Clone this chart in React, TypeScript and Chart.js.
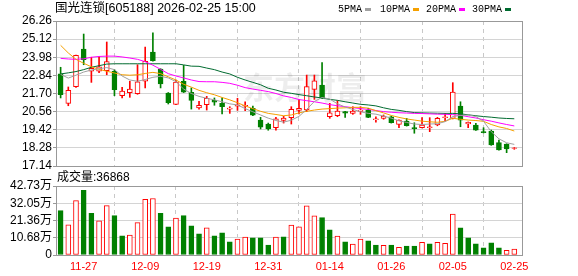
import React, { useEffect, useRef } from 'react';
import { Chart, registerables } from 'chart.js';

Chart.register(...registerables);

const dates = ['11-24','11-25','11-26','11-27','11-28','12-01','12-02','12-03','12-04','12-05','12-08','12-09','12-10','12-11','12-12','12-15','12-16','12-17','12-18','12-19','12-22','12-23','12-24','12-25','12-26','12-29','12-30','12-31','01-05','01-06','01-07','01-08','01-09','01-12','01-13','01-14','01-15','01-16','01-19','01-20','01-21','01-22','01-23','01-26','01-27','01-28','01-29','01-30','02-02','02-03','02-04','02-05','02-06','02-09','02-10','02-11','02-12','02-13','02-24','02-25'];

const openP = [22.93,21.08,22.13,24.50,23.10,23.10,23.13,23.10,21.56,21.75,
  21.69,22.47,24.31,23.24,21.73,21.02,22.47,21.78,20.79,20.99,
  21.27,21.08,20.71,20.91,20.90,20.77,20.03,19.78,19.55,20.01,
  20.18,20.64,20.66,21.96,22.23,20.24,20.30,20.56,20.45,20.58,
  20.66,20.05,20.14,20.24,19.76,19.97,19.55,19.55,19.55,19.72,
  20.18,20.14,20.91,19.78,19.72,19.30,19.34,18.61,18.52,18.25];
const closeP = [21.62,21.90,24.10,23.83,23.28,23.37,23.70,21.94,21.86,21.98,
  22.44,23.73,23.76,22.30,21.12,22.42,21.78,21.27,20.96,21.40,
  21.15,20.87,20.79,20.98,20.96,20.33,19.59,19.47,20.10,20.16,
  20.71,20.77,22.13,22.49,21.40,20.49,20.60,20.47,20.60,20.66,
  20.20,20.10,20.28,19.86,20.03,19.67,19.49,19.72,19.61,20.14,
  20.24,21.79,20.03,19.89,19.40,19.24,18.46,18.15,18.21,18.29];
const highP = [23.35,22.11,24.12,25.44,23.98,24.02,24.94,23.20,22.09,22.47,
  23.51,24.62,25.51,23.26,21.76,22.55,23.47,22.05,21.21,21.52,
  21.42,21.42,20.87,21.40,21.17,20.91,20.20,19.84,20.20,20.27,
  20.87,21.33,22.86,22.86,23.64,21.08,21.25,20.58,20.87,20.87,
  20.77,20.24,20.35,20.28,20.05,20.14,19.86,20.18,20.18,20.20,
  20.45,22.38,21.18,19.91,19.82,19.55,19.40,18.77,18.54,18.31];
const lowP = [21.42,20.93,22.08,23.51,22.40,23.01,22.88,21.56,21.42,21.46,
  21.65,22.05,23.74,22.05,21.04,21.00,21.76,20.72,20.72,20.66,
  20.96,20.41,20.45,20.64,20.62,20.31,19.47,19.39,19.39,19.84,
  19.78,20.41,20.56,21.33,21.38,20.14,20.24,20.20,20.39,20.39,
  20.18,19.89,20.08,19.84,19.55,19.65,19.20,19.53,19.30,19.67,
  19.97,20.10,19.61,19.55,19.38,19.22,18.44,18.13,17.98,18.19];

// volume in 万
const volume = [27.5,18.7,33.7,40.0,25.8,21.2,30.6,24.4,11.9,12.3,
  20.0,34.4,35.0,25.8,17.5,22.9,24.4,18.1,13.1,16.9,
  11.9,13.7,8.1,9.8,11.1,10.6,10.6,6.2,11.1,11.2,
  18.5,17.5,30.4,24.2,23.1,15.6,11.7,8.1,6.7,9.8,
  8.7,6.2,6.0,6.2,4.8,5.6,5.6,7.9,6.9,7.9,
  7.3,25.4,16.9,10.6,6.9,4.4,7.5,4.4,2.9,3.6868];
const volUp = [0,1,1,0,0,1,1,0,0,1, 1,1,1,0,0,1,0,0,0,1, 0,0,0,1,1,0,0,0,1,0,
  1,1,1,1,0,0,1,0,1,1, 0,0,1,0,1,0,0,1,0,1, 1,1,0,0,0,0,0,0,1,1];

const ma5 = [22.90,22.67,22.85,23.05,23.18,23.26,23.33,23.20,22.80,22.55,
  22.47,22.58,22.72,22.78,22.68,22.45,21.98,21.70,21.52,21.40,
  21.30,21.18,21.05,20.98,20.75,20.55,20.35,20.15,20.00,19.90,
  20.02,20.26,20.70,21.20,21.45,21.35,21.05,20.85,20.70,20.55,
  20.45,20.40,20.28,20.15,19.98,19.88,19.78,19.75,19.78,19.80,
  19.93,20.25,20.32,20.35,20.25,19.95,19.30,18.85,18.60,18.50];
const ma10 = [24.73,24.25,23.85,23.60,23.38,23.22,23.10,22.99,22.88,22.85,
  22.88,22.96,23.03,22.95,22.75,22.55,22.28,22.10,21.90,21.75,
  21.62,21.45,21.30,21.12,20.92,20.75,20.58,20.45,20.38,20.30,
  20.35,20.48,20.58,20.66,20.72,20.75,20.78,20.80,20.83,20.83,
  20.78,20.62,20.48,20.32,20.20,20.10,20.03,19.96,19.92,19.89,
  19.95,20.14,20.08,20.03,20.00,19.95,19.75,19.60,19.50,19.34];
const ma20 = [23.91,23.87,23.85,23.88,23.98,24.03,24.05,24.05,24.00,23.93,
  23.85,23.70,23.48,23.22,22.95,22.80,22.68,22.55,22.45,22.44,
  22.44,22.40,22.34,22.22,22.07,21.98,21.90,21.82,21.70,21.55,
  21.45,21.32,21.25,21.18,21.10,21.00,20.93,20.87,20.81,20.75,
  20.70,20.63,20.56,20.52,20.49,20.47,20.45,20.44,20.42,20.40,
  20.39,20.37,20.33,20.24,20.16,20.05,19.96,19.85,19.75,19.66];
const ma30 = [22.93,23.00,23.08,23.20,23.35,23.45,23.55,23.57,23.57,23.57,
  23.57,23.57,23.57,23.57,23.57,23.57,23.50,23.42,23.41,23.30,
  23.20,23.05,22.93,22.72,22.55,22.40,22.25,22.03,21.92,21.78,
  21.71,21.63,21.56,21.48,21.42,21.33,21.27,21.18,21.10,21.02,
  20.98,20.92,20.80,20.70,20.64,20.56,20.50,20.48,20.47,20.46,
  20.45,20.45,20.42,20.36,20.30,20.25,20.21,20.16,20.13,20.11];

const priceTicks = [17.14, 18.28, 19.42, 20.56, 21.70, 22.84, 23.98, 25.12, 26.26];
const volTicks = [0, 10.68, 21.36, 32.05, 42.73];
const labelIdx = [3, 11, 19, 27, 35, 43, 51, 59];

const title = '国光连锁[605188] 2026-02-25 15:00';
const volTitle = '成交量:36868';
const legendItems = [
  { label: '5PMA', color: '#a0a0a0' },
  { label: '10PMA', color: '#f5a000' },
  { label: '20PMA', color: '#ff00ff' },
  { label: '30PMA', color: '#006b30' },
];

const RED = '#ff0000';
const GREEN = '#008000';
const FONT = '"Liberation Sans", "Noto Sans CJK SC", sans-serif';
const MONO = '"Liberation Mono", monospace';

const framePlugin = {
  id: 'frame',
  afterDraw(chart: any) {
    const { ctx, chartArea: a } = chart;
    ctx.save();
    ctx.strokeStyle = '#999999';
    ctx.lineWidth = 1;
    ctx.strokeRect(Math.round(a.left) + 0.5, Math.round(a.top) + 0.5, Math.round(a.right - a.left), Math.round(a.bottom - a.top));
    ctx.restore();
  },
};

const watermarkPlugin = {
  id: 'watermark',
  beforeDatasetsDraw(chart: any) {
    const { ctx } = chart;
    ctx.save();
    ctx.font = 'bold 31px "Noto Sans CJK SC"';
    ctx.fillStyle = 'rgba(0,0,0,0.07)';
    ctx.textBaseline = 'middle';
    ctx.textAlign = 'left';
    ctx.fillText('东方财富', 243, 87);
    ctx.restore();
  },
};

const headerPlugin = {
  id: 'header',
  afterDraw(chart: any) {
    const { ctx } = chart;
    ctx.save();
    ctx.fillStyle = '#000';
    ctx.textBaseline = 'middle';
    ctx.textAlign = 'left';
    ctx.font = '12.5px ' + FONT;
    ctx.fillText(title, 55, 9);
    ctx.font = '10px ' + MONO;
    const starts = [338, 380, 426, 472];
    legendItems.forEach((it, k) => {
      const x = starts[k];
      ctx.fillStyle = '#000';
      ctx.fillText(it.label, x, 9.5);
      const w = ctx.measureText(it.label).width;
      ctx.fillStyle = it.color;
      ctx.fillRect(Math.round(x + w + 3), 8, 6, 3);
    });
    ctx.restore();
  },
};

const volTitlePlugin = {
  id: 'voltitle',
  afterDraw(chart: any) {
    const { ctx } = chart;
    ctx.save();
    ctx.fillStyle = '#000';
    ctx.textBaseline = 'middle';
    ctx.textAlign = 'left';
    ctx.font = '12px ' + FONT;
    ctx.fillText(volTitle, 57, 11.5);
    ctx.restore();
  },
};

function xScale(showLabels: boolean) {
  return {
    type: 'linear',
    min: -0.6,
    max: 60,
    bounds: 'data',
    offset: false,
    afterBuildTicks: (s: any) => { s.ticks = labelIdx.map((v) => ({ value: v })); },
    afterFit: (s: any) => { s.height = showLabels ? 21 : 0; s.paddingLeft = 0; s.paddingRight = 0; },
    grid: { color: '#c8c8c8', drawTicks: false, lineWidth: 1 },
    border: { display: false, dash: [4, 4] },
    ticks: {
      display: showLabels,
      autoSkip: false,
      maxRotation: 0,
      minRotation: 0,
      padding: 5,
      color: RED,
      font: { size: 11, family: FONT },
      callback: (v: any) => dates[v] ?? '',
    },
  };
}

function yScale(min: number, max: number, ticks: number[], fmt: (v: number) => string) {
  return {
    type: 'linear',
    min,
    max,
    afterBuildTicks: (s: any) => { s.ticks = ticks.map((v) => ({ value: v })); },
    afterFit: (s: any) => { s.width = 56; s.paddingTop = 0; s.paddingBottom = 0; },
    grid: { color: '#d4d4d4', drawTicks: true, tickLength: 3, tickColor: '#999999' },
    border: { display: false },
    ticks: {
      autoSkip: false,
      padding: 1,
      color: '#000',
      font: { size: 12, family: FONT },
      callback: (v: any) => fmt(Number(v)),
    },
  };
}

export default function App() {
  const priceRef = useRef<HTMLCanvasElement>(null);
  const volRef = useRef<HTMLCanvasElement>(null);

  useEffect(() => {
    document.body.style.margin = '0';
    const up = closeP.map((c, i) => c >= openP[i]);
    const line = (data: number[], color: string) => ({
      type: 'line',
      data: data.map((y, x) => ({ x, y })),
      borderColor: color,
      borderWidth: 1,
      pointRadius: 0,
      tension: 0,
      fill: false,
      order: -1,
    });

    const priceChart = new Chart(priceRef.current as HTMLCanvasElement, {
      type: 'bar',
      data: {
        datasets: [
          line(ma5, '#a0a0a0'),
          line(ma10, '#f5a000'),
          line(ma20, '#ff00ff'),
          line(ma30, '#006b30'),
          {
            type: 'bar',
            data: openP.map((o, i) => ({ x: i, y: [o, closeP[i]] })),
            backgroundColor: up.map((u) => (u ? '#ffffff' : GREEN)),
            borderColor: up.map((u) => (u ? RED : GREEN)),
            borderWidth: 1,
            borderSkipped: false,
            barThickness: 5,
            grouped: false,
            order: 0,
          },
          {
            type: 'bar',
            data: lowP.map((l, i) => ({ x: i, y: [l, highP[i]] })),
            backgroundColor: up.map((u) => (u ? RED : GREEN)),
            borderWidth: 0,
            barThickness: 1,
            grouped: false,
            order: 1,
          },
        ] as any,
      },
      options: {
        animation: false,
        responsive: false,
        devicePixelRatio: 1,
        layout: { padding: { left: 0, right: 56, top: 21, bottom: 14 } },
        plugins: { legend: { display: false }, tooltip: { enabled: false } },
        scales: {
          x: xScale(false) as any,
          y: yScale(17.14, 26.26, priceTicks, (v) => v.toFixed(2)) as any,
        },
      },
      plugins: [watermarkPlugin, framePlugin, headerPlugin],
    });

    const volChart = new Chart(volRef.current as HTMLCanvasElement, {
      type: 'bar',
      data: {
        datasets: [
          {
            type: 'bar',
            data: volume.map((v, i) => ({ x: i, y: v })),
            backgroundColor: volUp.map((u) => (u ? '#ffffff' : GREEN)),
            borderColor: volUp.map((u) => (u ? RED : GREEN)),
            borderWidth: 1,
            borderSkipped: false,
            barThickness: 5,
            grouped: false,
          },
        ] as any,
      },
      options: {
        animation: false,
        responsive: false,
        devicePixelRatio: 1,
        layout: { padding: { left: 0, right: 56, top: 20, bottom: 0 } },
        plugins: { legend: { display: false }, tooltip: { enabled: false } },
        scales: {
          x: xScale(true) as any,
          y: yScale(0, 42.73, volTicks, (v) => (v === 0 ? '0' : v.toFixed(2) + '万')) as any,
        },
      },
      plugins: [framePlugin, volTitlePlugin],
    });

    return () => {
      priceChart.destroy();
      volChart.destroy();
    };
  }, []);

  return (
    <div style={{ position: 'relative', width: 578, height: 276, background: '#fff' }}>
      <canvas ref={priceRef} width={578} height={180} style={{ position: 'absolute', left: 0, top: 0 }} />
      <canvas ref={volRef} width={578} height={110} style={{ position: 'absolute', left: 0, top: 166 }} />
    </div>
  );
}
